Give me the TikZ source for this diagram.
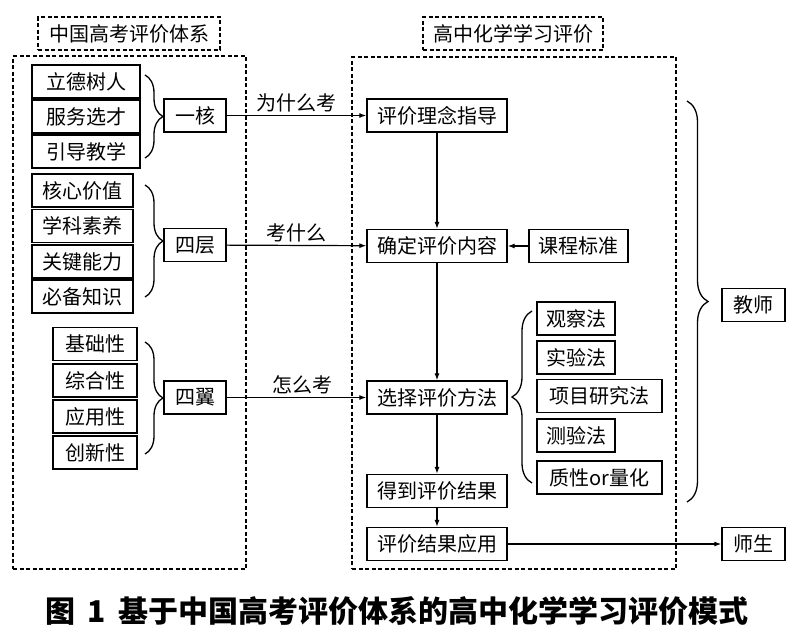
\documentclass[tikz,border=0pt]{standalone}
\usepackage{fontspec}
\setmainfont{Noto Sans CJK SC}
\usetikzlibrary{decorations.pathreplacing,arrows.meta}
\begin{document}
\begin{tikzpicture}[x=1pt,y=-1pt,
  box/.style={draw, line width=1.3pt, inner sep=0pt, minimum height=33pt, font=\fontsize{20}{20}\selectfont},
  tbox/.style={draw, line width=1.4pt, dash pattern=on 4pt off 2.5pt, inner sep=0pt, minimum height=33pt, font=\fontsize{20}{20}\selectfont},
  cont/.style={draw, line width=1.4pt, dash pattern=on 4pt off 2.5pt, inner sep=0pt},
  arr/.style={-{Latex[length=7pt,width=5pt]}, line width=1.2pt},
  lab/.style={font=\fontsize{20}{20}\selectfont, inner sep=3pt},
  brc/.style={decorate, decoration={brace, amplitude=#1}, line width=1.3pt}
]
\useasboundingbox (0,0) rectangle (800,638);
\fill[white] (0,0) rectangle (800,638);

% titles
\node[tbox, minimum width=182pt] (t1) at (129,33.5) {中国高考评价体系};
\node[tbox, minimum width=180pt] (t2) at (513,33.5) {高中化学学习评价};

% containers
\node[cont, minimum width=233pt, minimum height=513pt] (L) at (129.5,312.5) {};
\node[cont, minimum width=324pt, minimum height=512pt] (R) at (514,313) {};

% left column
\node[box, minimum width=108pt] (a1) at (86,81.5) {立德树人};
\node[box, minimum width=108pt] (a2) at (86,116.5) {服务选才};
\node[box, minimum width=108pt] (a3) at (86,151.5) {引导教学};

\node[box, minimum width=101pt] (b1) at (82.5,190.5) {核心价值};
\node[box, minimum width=101pt] (b2) at (82.5,226) {学科素养};
\node[box, minimum width=101pt] (b3) at (82.5,261.5) {关键能力};
\node[box, minimum width=101pt] (b4) at (82.5,296.5) {必备知识};

\node[box, minimum width=84pt] (c1) at (95,344) {基础性};
\node[box, minimum width=84pt] (c2) at (95,380.5) {综合性};
\node[box, minimum width=84pt] (c3) at (95,416.5) {应用性};
\node[box, minimum width=84pt] (c4) at (95,452.5) {创新性};

\node[box, minimum width=62pt] (k1) at (195,115.5) {一核};
\node[box, minimum width=62pt] (k2) at (195,245) {四层};
\node[box, minimum width=62pt] (k3) at (195,397.5) {四翼};

% braces left
\draw[brc=18pt] (145,75) -- (145,158);
\draw[brc=18pt] (145,185) -- (145,297);
\draw[brc=18pt] (145,342) -- (145,454);

% right column
\node[box, minimum width=140pt] (r1) at (437,115.5) {评价理念指导};
\node[box, minimum width=140pt] (r2) at (437,246) {确定评价内容};
\node[box, minimum width=99pt] (kb) at (578.5,246) {课程标准};
\node[box, minimum width=140pt] (r3) at (437,397.5) {选择评价方法};
\node[box, minimum width=140pt] (r4) at (437,491) {得到评价结果};
\node[box, minimum width=140pt] (r5) at (437,544) {评价结果应用};

\node[box, minimum width=78pt] (m1) at (576,318.5) {观察法};
\node[box, minimum width=78pt] (m2) at (576,357.5) {实验法};
\node[box, minimum width=125pt] (m3) at (599.5,396) {项目研究法};
\node[box, minimum width=78pt] (m4) at (576,435.5) {测验法};
\node[box, minimum width=125pt] (m5) at (599.5,477.5) {质性or量化};

\node[box, minimum width=63pt] (js) at (753.5,305) {教师};
\node[box, minimum width=63pt] (ss) at (753.5,544) {师生};

% braces right
\draw[brc=20pt] (532,483) -- (532,311);
\draw[brc=21pt] (687,101) -- (687,502);

% connectors
\draw[arr] (k1) -- node[lab, above] {为什么考} (r1);
\draw[arr] (k2) -- node[lab, above] {考什么} (r2);
\draw[arr] (k3) -- node[lab, above, xshift=6pt] {怎么考} (r3);
\draw[arr] (r1) -- (r2);
\draw[arr] (r2) -- (r3);
\draw[arr] (r3) -- (r4);
\draw[arr] (r4) -- (r5);
\draw[arr] (kb) -- (r2);
\draw[arr] (r5) -- (ss);

% caption
\node[font=\fontsize{30}{30}\selectfont\bfseries, inner sep=0pt] (cap) at (397,611) {图\hspace{0.4em}1\hspace{0.4em}基于中国高考评价体系的高中化学学习评价模式};
\end{tikzpicture}
\end{document}
